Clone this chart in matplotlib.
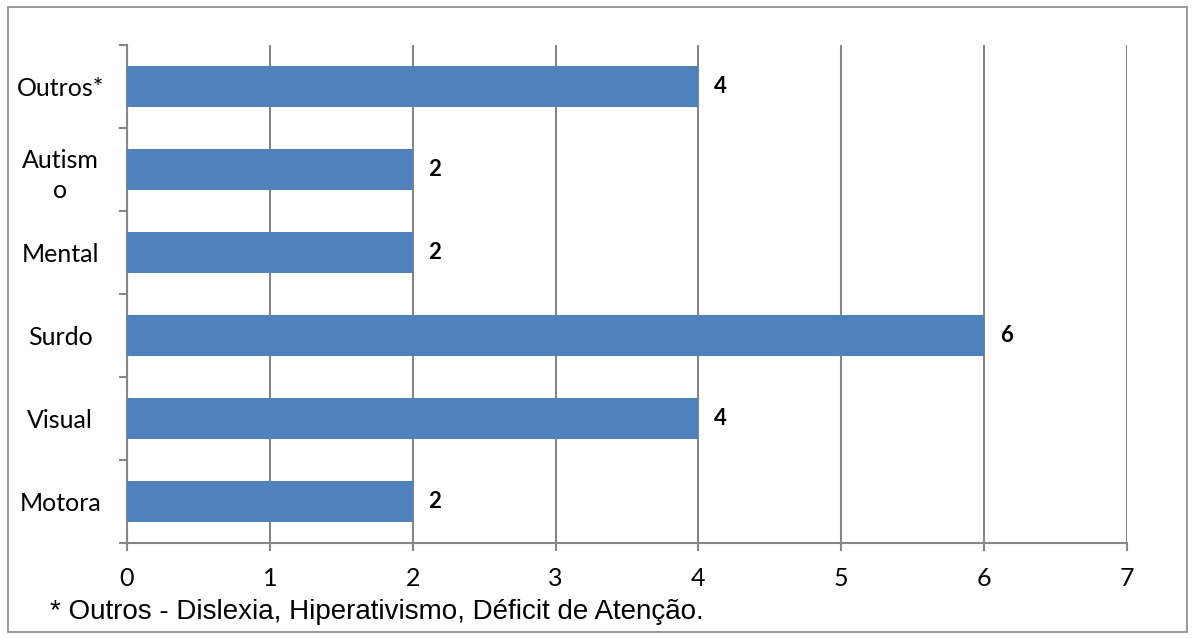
import matplotlib.pyplot as plt
from matplotlib.patches import Rectangle
import numpy as np

# Data (bottom to top)
categories = ["Motora", "Visual", "Surdo", "Mental", "Autism\no", "Outros*"]
values = [2, 4, 6, 2, 2, 4]
x_ticks = [0, 1, 2, 3, 4, 5, 6, 7]
footnote = "* Outros - Dislexia, Hiperativismo, Déficit de Atenção."

bar_color = "#4F81BD"
grid_color = "#868686"
label_font = "Lato"

fig = plt.figure(figsize=(11.94, 6.39), dpi=100)
ax = fig.add_axes([127 / 1194, 1 - 543 / 639, 1000 / 1194, 498 / 639])

y = np.arange(len(categories))
ax.barh(y, values, height=0.5, color=bar_color, zorder=3)

for yi, v in zip(y, values):
    ax.text(v + 0.11, yi, str(v), va="center", ha="left", fontsize=16,
            fontweight="bold", family=label_font)

ax.set_xlim(0, 7)
ax.set_ylim(-0.5, len(categories) - 0.5)
ax.set_xticks(x_ticks)
ax.set_xticklabels([str(t) for t in x_ticks], family=label_font, fontsize=18)
ax.xaxis.grid(True, color=grid_color, linewidth=1.5, zorder=0)

# category labels centred, ticks on category boundaries
ax.set_yticks(y)
ax.set_yticklabels(categories, family=label_font, fontsize=18)
ax.tick_params(axis="y", length=0, pad=48)
for lbl in ax.get_yticklabels():
    lbl.set_ha("center")
    lbl.set_multialignment("center")
    lbl.set_linespacing(1.4)
ax.set_yticks(np.arange(-0.5, len(categories)), minor=True)
ax.tick_params(axis="y", which="minor", length=6, width=1.5, color=grid_color)
ax.tick_params(axis="x", length=6, width=1.5, color=grid_color, pad=11)

for s in ["top", "right"]:
    ax.spines[s].set_visible(False)
for s in ["left", "bottom"]:
    ax.spines[s].set_color(grid_color)
    ax.spines[s].set_linewidth(1.5)

fig.text(50 / 1194, 1 - 612 / 639, footnote, family="Liberation Sans",
         fontsize=20, va="center", ha="left")

fig.patches.append(Rectangle((8 / 1194, 7 / 639), 1179 / 1194, 625 / 639,
                             transform=fig.transFigure, fill=False,
                             edgecolor="#888888", linewidth=1.2))

fig.savefig("out.png", dpi=100)
